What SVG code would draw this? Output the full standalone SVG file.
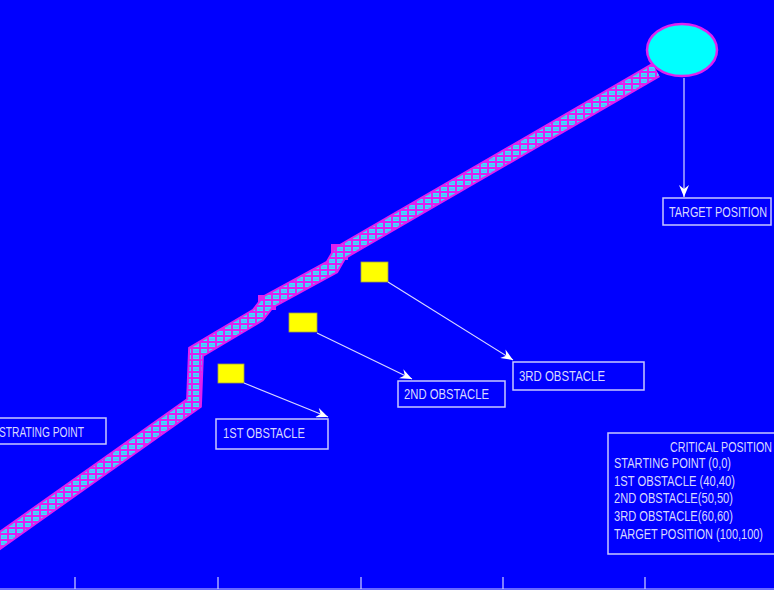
<svg xmlns="http://www.w3.org/2000/svg" width="774" height="590" viewBox="0 0 774 590">
<style>
.lbl{font-family:"Liberation Sans",Arial,sans-serif;font-size:15px;fill:#D8D8FF}
.box{fill:none;stroke:#C8C8FF;stroke-width:1.5}
.arr{fill:none;stroke:#D8D8FF;stroke-width:1.2;marker-end:url(#ah)}
.obs{fill:#FFFF00;stroke:#A0A040;stroke-width:0.8}
.tick{stroke:#D0D0FF;stroke-width:1.2}
</style>
<defs>
<pattern id="cells" patternUnits="userSpaceOnUse" width="8" height="6">
<rect width="8" height="6" fill="#E020F0"/>
<rect x="1" y="1" width="6" height="4" fill="#30E8FF"/>
<rect x="1.5" y="2.6" width="5" height="1" fill="#8C80FF"/>
</pattern>
<marker id="ah" markerUnits="userSpaceOnUse" markerWidth="14" markerHeight="10" refX="12" refY="5" orient="auto">
<path d="M0,0 L12,5 L0,10 L4,5 z" fill="#FFFFFF"/>
</marker>
</defs>
<rect width="774" height="590" fill="#0000FF"/>
<g id="path-band">
<polyline points="-8,546 194,403 196,352 258,315 268,302 332,267 340,253 656,70" fill="none" stroke="#E020F0" stroke-width="16"/>
<rect x="258" y="295" width="18" height="15" fill="#E020F0"/>
<rect x="331" y="244" width="17" height="16" fill="#E020F0"/>
<polyline points="-8,546 194,403 196,352 258,315 268,302 332,267 340,253 656,70" fill="none" stroke="url(#cells)" stroke-width="12"/>
</g>
<g id="target">
<ellipse cx="682" cy="50" rx="35" ry="26" fill="#00FFFF" stroke="#E020F0" stroke-width="2.5"/>
</g>
<g id="obstacle1"><rect class="obs" x="218" y="364" width="26" height="19"/></g>
<g id="obstacle2"><rect class="obs" x="289" y="313" width="28" height="19"/></g>
<g id="obstacle3"><rect class="obs" x="361" y="262" width="27" height="20"/></g>
<g id="connectors">
<line class="arr" x1="684" y1="78" x2="684" y2="197"/>
<line class="arr" x1="244" y1="383" x2="328" y2="417"/>
<line class="arr" x1="317" y1="333" x2="412" y2="379"/>
<line class="arr" x1="388" y1="282" x2="513" y2="360"/>
</g>
<g id="label-target">
<rect class="box" x="663" y="198" width="108" height="27"/>
<text class="lbl" x="669" y="217" textLength="98" lengthAdjust="spacingAndGlyphs">TARGET POSITION</text>
</g>
<g id="label-start">
<rect class="box" x="-5" y="418" width="111" height="26"/>
<text class="lbl" x="-1" y="437" textLength="85" lengthAdjust="spacingAndGlyphs">STRATING POINT</text>
</g>
<g id="label-obs1">
<rect class="box" x="216" y="419" width="112" height="30"/>
<text class="lbl" x="223" y="438" textLength="82" lengthAdjust="spacingAndGlyphs">1ST OBSTACLE</text>
</g>
<g id="label-obs2">
<rect class="box" x="398" y="381" width="107" height="26"/>
<text class="lbl" x="404" y="399" textLength="85" lengthAdjust="spacingAndGlyphs">2ND OBSTACLE</text>
</g>
<g id="label-obs3">
<rect class="box" x="513" y="362" width="131" height="28"/>
<text class="lbl" x="519" y="381" textLength="86" lengthAdjust="spacingAndGlyphs">3RD OBSTACLE</text>
</g>
<g id="critical-positions">
<rect class="box" x="608" y="433" width="175" height="121"/>
<text class="lbl" x="670" y="452" textLength="102" lengthAdjust="spacingAndGlyphs">CRITICAL POSITION</text>
<text class="lbl" x="614" y="468" textLength="117" lengthAdjust="spacingAndGlyphs">STARTING POINT (0,0)</text>
<text class="lbl" x="614" y="486" textLength="121" lengthAdjust="spacingAndGlyphs">1ST OBSTACLE (40,40)</text>
<text class="lbl" x="614" y="503" textLength="119" lengthAdjust="spacingAndGlyphs">2ND OBSTACLE(50,50)</text>
<text class="lbl" x="614" y="521" textLength="119" lengthAdjust="spacingAndGlyphs">3RD OBSTACLE(60,60)</text>
<text class="lbl" x="614" y="539" textLength="149" lengthAdjust="spacingAndGlyphs">TARGET POSITION (100,100)</text>
</g>
<g id="axis">
<line class="tick" x1="0" y1="589" x2="774" y2="589"/>
<line class="tick" x1="75" y1="577" x2="75" y2="589"/>
<line class="tick" x1="218" y1="577" x2="218" y2="589"/>
<line class="tick" x1="361" y1="577" x2="361" y2="589"/>
<line class="tick" x1="503" y1="577" x2="503" y2="589"/>
<line class="tick" x1="645" y1="577" x2="645" y2="589"/>
</g>
</svg>
